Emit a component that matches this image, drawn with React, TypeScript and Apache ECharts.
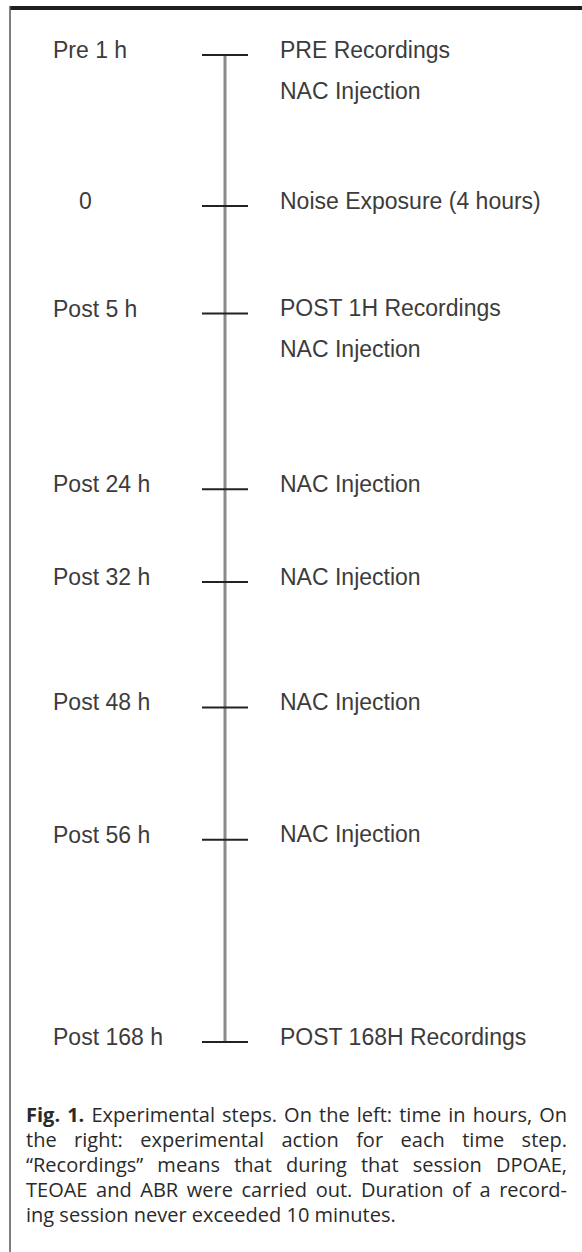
import React, { useEffect, useRef } from "react";
import * as echarts from "echarts";

// ---- data ----
const timeLabels = [
  "Pre 1 h",
  "0",
  "Post 5 h",
  "Post 24 h",
  "Post 32 h",
  "Post 48 h",
  "Post 56 h",
  "Post 168 h",
];

const actionLines: string[][] = [
  ["PRE Recordings", "NAC Injection"],
  ["Noise Exposure (4 hours)"],
  ["POST 1H Recordings", "NAC Injection"],
  ["NAC Injection"],
  ["NAC Injection"],
  ["NAC Injection"],
  ["NAC Injection"],
  ["POST 168H Recordings"],
];

// placement of each step along the drawn timeline (0 = top tick, 100 = bottom tick)
const stepLevels = [0, 15.3, 26.2, 44.0, 53.4, 66.1, 79.5, 100];

const captionBoldWords = ["Fig.", "1."];
const captionLines = [
  "Fig. 1. Experimental steps. On the left: time in hours, On",
  "the right: experimental action for each time step.",
  "\u201cRecordings\u201d means that during that session DPOAE,",
  "TEOAE and ABR were carried out. Duration of a record-",
  "ing session never exceeded 10 minutes.",
];

// ---- layout / style constants ----
const W = 582;
const H = 1252;
const SPINE_X = 225;
const TOP_TICK_Y = 55;
const BOTTOM_TICK_Y = 1042;
const LEFT_X = 53;
const labelIndent = [0, 26, 0, 0, 0, 0, 0, 0];
const LABEL_FONT = "Arial, 'Liberation Sans', sans-serif";
const CAPTION_FAMILY = "'Open Sans', 'Noto Sans', sans-serif";
const CAPTION_SIZE = 20;
const CAPTION_LEFT = 26;
const CAPTION_RIGHT = 567;
const CAPTION_TOP = 1104;
const CAPTION_LH = 25;
const CAPTION_COLOR = "#2a2a2a";

function buildCaption() {
  const canvas = document.createElement("canvas");
  const ctx = canvas.getContext("2d")!;
  const measure = (t: string, bold: boolean) => {
    ctx.font = `${bold ? "bold " : ""}${CAPTION_SIZE}px ${CAPTION_FAMILY}`;
    return ctx.measureText(t).width;
  };
  const els: any[] = [];
  captionLines.forEach((line, li) => {
    const words = line.split(" ");
    const isBold = (w: string, wi: number) => li === 0 && wi < captionBoldWords.length && captionBoldWords[wi] === w;
    const widths = words.map((w, wi) => measure(w, isBold(w, wi)));
    const sum = widths.reduce((a, b) => a + b, 0);
    const last = li === captionLines.length - 1;
    const space = measure(" ", false);
    let gap = last || words.length < 2
      ? space
      : (CAPTION_RIGHT - CAPTION_LEFT - sum) / (words.length - 1);
    if (gap < space * 0.6) gap = space * 0.6;
    let x = CAPTION_LEFT;
    words.forEach((w, wi) => {
      els.push({
        type: "text",
        x,
        y: CAPTION_TOP + li * CAPTION_LH,
        style: {
          text: w,
          fontFamily: CAPTION_FAMILY,
          fontSize: CAPTION_SIZE,
          fontWeight: isBold(w, wi) ? "bold" : "normal",
          fill: CAPTION_COLOR,
          align: "left",
          verticalAlign: "top",
        },
      });
      x += widths[wi] + gap;
    });
  });
  return els;
}

export default function App() {
  const ref = useRef<HTMLDivElement>(null);

  useEffect(() => {
    document.body.style.margin = "0";
    if (!ref.current) return;
    const chart = echarts.init(ref.current, undefined, { renderer: "svg" });

    chart.setOption({
      animation: false,
      backgroundColor: "#ffffff",
      grid: {
        left: SPINE_X,
        width: 1,
        top: TOP_TICK_Y,
        height: BOTTOM_TICK_Y - TOP_TICK_Y,
        containLabel: false,
      },
      xAxis: { type: "value", min: 0, max: 1, show: false },
      yAxis: { type: "value", min: 0, max: 100, inverse: true, show: false },
      graphic: [
        {
          type: "rect",
          shape: { x: 10, y: 6, width: W - 10, height: 4 },
          style: { fill: "#1e1e1e" },
        },
        {
          type: "line",
          shape: { x1: 10, y1: 6, x2: 10, y2: H },
          style: { stroke: "#555", lineWidth: 1.5 },
        },
        ...buildCaption(),
      ],
      series: [
        {
          type: "line",
          data: [
            [0, stepLevels[0]],
            [0, stepLevels[stepLevels.length - 1]],
          ],
          symbol: "none",
          lineStyle: { color: "#8a8a8a", width: 3 },
          z: 1,
          silent: true,
        },
        {
          type: "custom",
          clip: false,
          z: 2,
          data: stepLevels.map((lv, i) => [i, lv]),
          renderItem: (params: any, api: any) => {
            const i = api.value(0);
            const lv = api.value(1);
            const [cx, cy] = api.coord([0, lv]);
            return {
              type: "group",
              children: [
                {
                  type: "line",
                  shape: { x1: cx - 23, y1: cy, x2: cx + 23, y2: cy },
                  style: { stroke: "#222", lineWidth: 2 },
                },
                {
                  type: "text",
                  x: LEFT_X + labelIndent[i],
                  y: cy - 5,
                  style: {
                    text: timeLabels[i],
                    fontFamily: LABEL_FONT,
                    fontSize: 23,
                    fill: "#3c3c3c",
                    align: "left",
                    verticalAlign: "middle",
                  },
                },
                {
                  type: "text",
                  x: cx + 55,
                  y: cy - 26,
                  style: {
                    text: actionLines[i].join("\n"),
                    fontFamily: LABEL_FONT,
                    fontSize: 23,
                    lineHeight: 41,
                    fill: "#3c3c3c",
                    align: "left",
                    verticalAlign: "top",
                  },
                },
              ],
            };
          },
        },
      ],
    });

    return () => chart.dispose();
  }, []);

  return <div ref={ref} style={{ width: W, height: H }} />;
}
